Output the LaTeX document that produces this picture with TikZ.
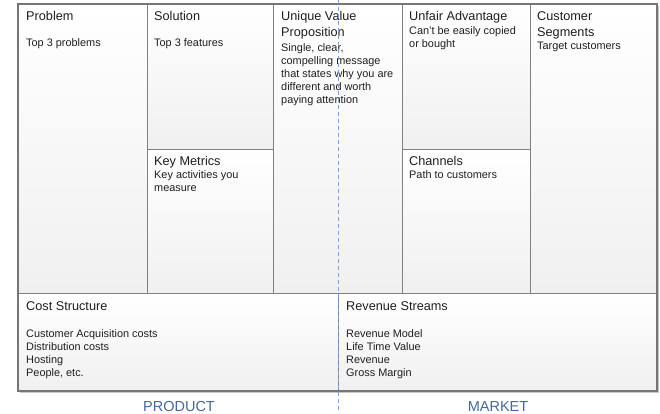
\documentclass[tikz,border=0pt]{standalone}
\usepackage{fontspec}
\setmainfont{Liberation Sans}
\definecolor{linegray}{HTML}{808080}
\definecolor{framegray}{HTML}{767676}
\definecolor{cellgray}{HTML}{F0F0F0}
\definecolor{dashblue}{HTML}{6FA8DC}
\definecolor{labelblue}{HTML}{44699A}
\begin{document}
\begin{tikzpicture}[x=1pt,y=-1pt,
  cell/.style={draw=linegray,line width=1pt,top color=white,bottom color=cellgray},
  ttl/.style={anchor=base west,inner sep=0pt,font=\fontsize{12.7}{15.5}\selectfont,align=left,text=black!88},
  body/.style={anchor=base west,inner sep=0pt,font=\fontsize{10.9}{13}\selectfont,align=left,text=black!88},
  side/.style={anchor=base,inner sep=0pt,font=\fontsize{14.5}{16}\selectfont,text=labelblue}]
\useasboundingbox (0,0) rectangle (660,413);
% shadow
\fill[gray!45] (20,6) rectangle (659,393);
% cells
\path[cell] (18,4) rectangle (147,293);
\path[cell] (147,4) rectangle (273,149);
\path[cell] (147,149) rectangle (273,293);
\path[cell] (273,4) rectangle (402,293);
\path[cell] (402,4) rectangle (530,149);
\path[cell] (402,149) rectangle (530,293);
\path[cell] (530,4) rectangle (657,293);
\path[cell] (18,293) rectangle (338,391);
\path[cell] (338,293) rectangle (657,391);
% frame
\draw[framegray,line width=2pt] (18,4) rectangle (657,391);
% texts (multi-line nodes are placed by the baseline of their last line)
\node[ttl] (probT) at (26,20.7) {Problem};
\node[body] (probB) at (26,46.5) {Top 3 problems};
\node[ttl] (solT) at (154,20.7) {Solution};
\node[body] (solB) at (154,46.5) {Top 3 features};
\node[ttl] (kmT) at (154,165.5) {Key Metrics};
\node[body] (kmB) at (154,191.5) {Key activities you\\measure};
\node[ttl] (uvpT) at (281,36.2) {Unique Value\\Proposition};
\node[body] (uvpB) at (281,103) {Single, clear,\\compelling message\\that states why you are\\different and worth\\paying attention};
\node[ttl] (uaT) at (409,20.7) {Unfair Advantage};
\node[body] (uaB) at (409,47.5) {Can't be easily copied\\or bought};
\node[ttl] (chT) at (409,165.5) {Channels};
\node[body] (chB) at (409,178.5) {Path to customers};
\node[ttl] (csT) at (537,36.2) {Customer\\Segments};
\node[body] (csB) at (537,49) {Target customers};
\node[ttl] (costT) at (26,310) {Cost Structure};
\node[body] (costB) at (26,376) {Customer Acquisition costs\\Distribution costs\\Hosting\\People, etc.};
\node[ttl] (revT) at (346,310) {Revenue Streams};
\node[body] (revB) at (346,376) {Revenue Model\\Life Time Value\\Revenue\\Gross Margin};
% divider
\coordinate (dtop) at (338,0);
\coordinate (dbot) at (338,413);
\draw[dashblue,line width=1pt,dash pattern=on 4pt off 3pt] (dtop) -- (dbot);
\node[side] (prod) at (179,411) {PRODUCT};
\node[side] (mkt) at (498,411) {MARKET};
\end{tikzpicture}
\end{document}
